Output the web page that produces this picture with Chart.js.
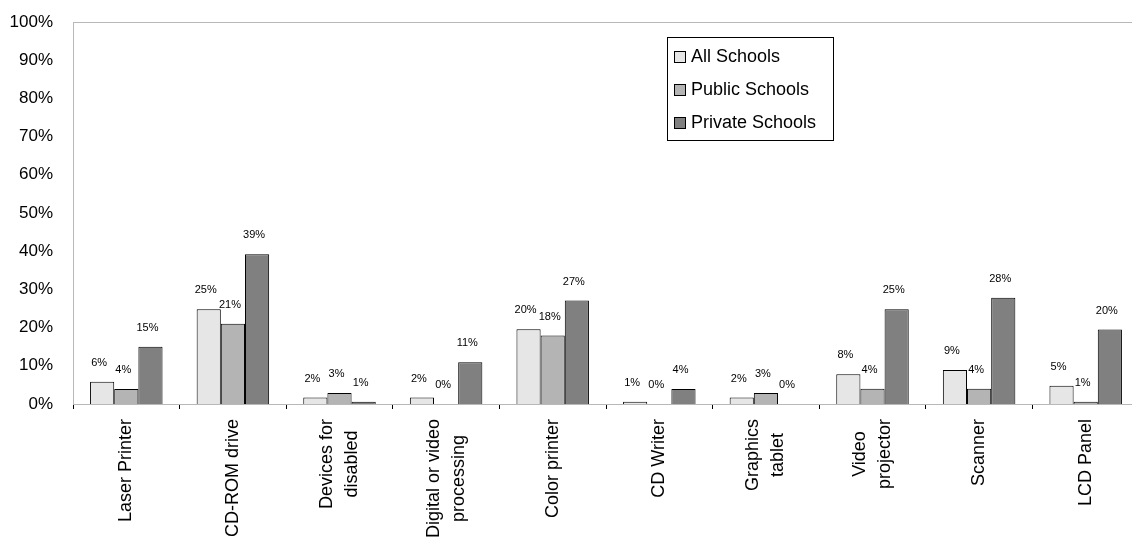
<!DOCTYPE html>
<html>
<head>
<meta charset="utf-8">
<title>Equipment in schools</title>
<script src="https://cdn.jsdelivr.net/npm/chart.js@4.4.1/dist/chart.umd.min.js"></script>
<style>
  html, body { margin: 0; padding: 0; background: #fff; overflow: hidden; }
  #wrap { width: 1140px; height: 540px; }
</style>
</head>
<body>
<div id="wrap"><canvas id="equipChart" width="1140" height="540"></canvas></div>
<script>
// Share of schools owning each kind of equipment (%)
var categories = [
  'Laser Printer', 'CD-ROM drive', ['Devices for', 'disabled'],
  ['Digital or video', 'processing'], 'Color printer', 'CD Writer',
  ['Graphics', 'tablet'], ['Video', 'projector'], 'Scanner', 'LCD Panel'
];
var allSchools     = [5.8, 24.8, 1.7, 1.7, 19.6, 0.6, 1.7, 7.8, 8.9, 4.8];
var publicSchools  = [3.9, 21.0, 2.9, 0.0, 17.9, 0.0, 2.9, 4.0, 4.0, 0.6];
var privateSchools = [15.0, 39.2, 0.6, 10.9, 27.1, 3.9, 0.0, 24.8, 27.8, 19.5];
var yTicks = [0, 10, 20, 30, 40, 50, 60, 70, 80, 90, 100];

var FONT = '"Liberation Sans", Arial, sans-serif';

// grey frame round the plot area
var plotFrame = {
  id: 'plotFrame',
  beforeDatasetsDraw: function(chart) {
    var a = chart.chartArea, ctx = chart.ctx;
    ctx.save();
    ctx.strokeStyle = '#b8b8b8';
    ctx.lineWidth = 1;
    ctx.strokeRect(a.left + 0.5, a.top + 0.5, a.right - a.left, a.bottom - a.top);
    ctx.restore();
  }
};

// value written above each bar
var barValues = {
  id: 'barValues',
  afterDatasetsDraw: function(chart) {
    var ctx = chart.ctx;
    ctx.save();
    ctx.font = '11px ' + FONT;
    ctx.fillStyle = '#000';
    ctx.textAlign = 'center';
    ctx.textBaseline = 'middle';
    chart.data.datasets.forEach(function(ds, i) {
      chart.getDatasetMeta(i).data.forEach(function(bar, j) {
        ctx.fillText(Math.round(ds.data[j]) + '%', bar.x - 3, bar.y - 19);
      });
    });
    ctx.restore();
  }
};

// vertical category names, lines centred on each other
var categoryNames = {
  id: 'categoryNames',
  afterDraw: function(chart, args, opts) {
    var ctx = chart.ctx, xs = chart.scales.x;
    var top = xs.top + opts.offset;
    ctx.save();
    ctx.font = opts.size + 'px ' + FONT;
    ctx.fillStyle = '#000';
    ctx.textAlign = 'center';
    ctx.textBaseline = 'middle';
    chart.data.labels.forEach(function(label, i) {
      var lines = Array.isArray(label) ? label : [label];
      var longest = Math.max.apply(null, lines.map(function(l) { return ctx.measureText(l).width; }));
      ctx.save();
      ctx.translate(xs.getPixelForTick(i), top + longest / 2);
      ctx.rotate(-Math.PI / 2);
      lines.forEach(function(l, k) {
        ctx.fillText(l, 0, (k - (lines.length - 1) / 2) * opts.lineHeight);
      });
      ctx.restore();
    });
    ctx.restore();
  }
};

// boxed legend inside the plot
var boxLegend = {
  id: 'boxLegend',
  afterDraw: function(chart, args, opts) {
    var ctx = chart.ctx;
    ctx.save();
    ctx.fillStyle = '#fff';
    ctx.fillRect(opts.x, opts.y, opts.w, opts.h);
    ctx.strokeStyle = '#000';
    ctx.lineWidth = 1;
    ctx.strokeRect(opts.x + 0.5, opts.y + 0.5, opts.w, opts.h);
    ctx.font = '18px ' + FONT;
    ctx.textBaseline = 'middle';
    chart.data.datasets.forEach(function(ds, i) {
      var cy = opts.y + 20 + i * 33;
      ctx.fillStyle = ds.backgroundColor;
      ctx.fillRect(opts.x + 7.5, cy - 5.5, 11, 11);
      ctx.strokeStyle = '#000';
      ctx.strokeRect(opts.x + 7.5, cy - 5.5, 11, 11);
      ctx.fillStyle = '#000';
      ctx.fillText(ds.label, opts.x + 24, cy);
    });
    ctx.restore();
  }
};

var ctx = document.getElementById('equipChart').getContext('2d');
var equipChart = new Chart(ctx, {
  type: 'bar',
  data: {
    labels: categories,
    datasets: [
      { label: 'All Schools', data: allSchools, backgroundColor: '#e6e6e6' },
      { label: 'Public Schools', data: publicSchools, backgroundColor: '#b4b4b4' },
      { label: 'Private Schools', data: privateSchools, backgroundColor: '#808080' }
    ]
  },
  options: {
    responsive: false,
    animation: false,
    layout: { padding: { top: 22, right: 1, left: 0, bottom: 0 } },
    datasets: {
      bar: {
        borderColor: '#000',
        borderWidth: 1,
        categoryPercentage: 0.68,
        barPercentage: 1.0
      }
    },
    plugins: {
      legend: { display: false },
      tooltip: { enabled: false },
      boxLegend: { x: 667, y: 37, w: 166, h: 103 },
      categoryNames: { offset: 15, size: 18, lineHeight: 25 }
    },
    scales: {
      x: {
        grid: {
          display: true,
          drawOnChartArea: false,
          offset: true,
          color: '#000',
          tickLength: 5
        },
        border: { color: '#000', width: 1 },
        ticks: { display: false },
        afterFit: function(scale) {
          scale.height = 136;
          scale.paddingLeft = 0;
          scale.paddingRight = 0;
        }
      },
      y: {
        min: 0,
        max: 100,
        afterBuildTicks: function(scale) {
          scale.ticks = yTicks.map(function(v) { return { value: v }; });
        },
        grid: { display: false, drawTicks: false },
        border: { color: '#b8b8b8', width: 1 },
        ticks: {
          padding: 20,
          color: '#000',
          font: { family: FONT, size: 17 },
          callback: function(v) { return v + '%'; }
        },
        afterFit: function(scale) {
          scale.width = 73;
          scale.paddingTop = 0;
          scale.paddingBottom = 0;
        }
      }
    }
  },
  plugins: [plotFrame, barValues, categoryNames, boxLegend]
});
</script>
</body>
</html>
